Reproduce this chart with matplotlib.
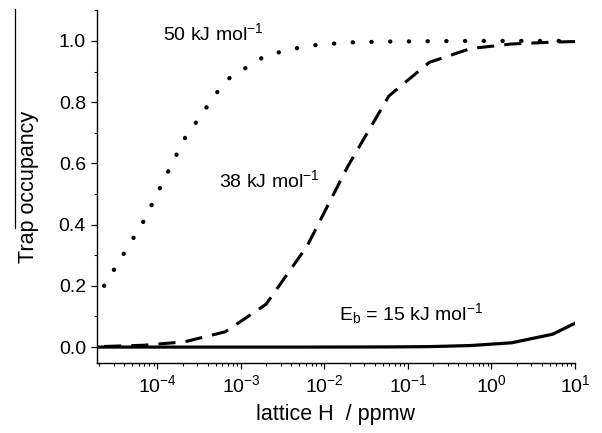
import numpy as np
import matplotlib
matplotlib.use("Agg")
import matplotlib.pyplot as plt
from matplotlib.lines import Line2D
from matplotlib.ticker import LogLocator, MultipleLocator


# ---------- data -----------------------------------------------------------
# lattice H concentration (ppmw)
x_h = [2.3e-5, 6.8e-5, 2.1e-4, 6.5e-4, 2.0e-3, 6.2e-3, 1.9e-2,
       5.9e-2, 0.18, 0.56, 1.74, 5.4, 10.0]
x_h_15 = [1.9e-5, 6.8e-5, 2.1e-4, 6.5e-4, 2.0e-3, 6.2e-3, 1.9e-2,
          5.9e-2, 0.18, 0.56, 1.74, 5.4, 10.0]

# trap occupancy for each binding energy
occ_50 = [0.20, 0.41, 0.68, 0.87, 0.953, 0.984, 0.995,
          0.998, 0.999, 1.0, 1.0, 1.0, 1.0]
occ_38 = [0.002, 0.006, 0.017, 0.05, 0.14, 0.33, 0.59,
          0.82, 0.93, 0.975, 0.99, 0.996, 0.998]
occ_15 = [0.0, 0.0, 0.0, 0.0, 0.0, 0.0, 0.0002,
          0.0005, 0.0015, 0.005, 0.014, 0.042, 0.078]

labels = [r"50 kJ mol$^{-1}$", r"38 kJ mol$^{-1}$", r"E$_{\rm b}$ = 15 kJ mol$^{-1}$"]


# ---------- style ------------------------------------------------------------
plt.rcParams["font.family"] = ["Liberation Sans", "DejaVu Sans"]
plt.rcParams["mathtext.fontset"] = "custom"
plt.rcParams["mathtext.rm"] = "Liberation Sans"
plt.rcParams["mathtext.it"] = "Liberation Sans"
plt.rcParams["mathtext.bf"] = "Liberation Sans:bold"
plt.rcParams["mathtext.default"] = "regular"

fig = plt.figure(figsize=(6.02, 4.33), dpi=100)
ax = fig.add_axes([97 / 602, 70 / 433, 478 / 602, 353 / 433])


# ---------- curves -----------------------------------------------------------
ax.plot(x_h, occ_50, color="black", lw=3.1, dashes=(0.05, 4.3),
        dash_capstyle="round")
ax.plot(x_h, occ_38, color="black", lw=2.2, dashes=(5.6, 3.3))
ax.plot(x_h_15, occ_15, color="black", lw=2.3, solid_joinstyle="miter")


# ---------- axes -------------------------------------------------------------
ax.set_xscale("log")
ax.set_xlim(1.89e-5, 10)
ax.set_ylim(-0.052, 1.101)

ax.xaxis.set_major_locator(LogLocator(base=10, numticks=12))
ax.xaxis.set_minor_locator(LogLocator(base=10, subs=np.arange(2, 10), numticks=12))
ax.yaxis.set_major_locator(MultipleLocator(0.2))
ax.yaxis.set_minor_locator(MultipleLocator(0.1))
ax.yaxis.set_major_formatter(plt.FormatStrFormatter("%.1f"))

for side in ["top", "right"]:
    ax.spines[side].set_visible(False)
for side in ["left", "bottom"]:
    ax.spines[side].set_linewidth(1.0)

ax.tick_params(which="major", direction="out", length=4, width=0.9,
               labelsize=14, pad=4)
ax.tick_params(which="minor", direction="out", length=2.3, width=0.8)

ax.set_xlabel("lattice H  / ppmw", fontsize=15.5, labelpad=6)
ax.set_ylabel("Trap occupancy", fontsize=15.5, labelpad=14)

# overline above "occupancy" in the y label
fig.add_artist(Line2D([15 / 602, 15 / 602], [1 - 9 / 433, 1 - 228 / 433],
                      transform=fig.transFigure, color="black", lw=0.9))


# ---------- annotations ------------------------------------------------------
ax.text(10 ** -3.93, 1.026, labels[0], fontsize=14, va="center", ha="left")
ax.text(10 ** -3.265, 0.546, labels[1], fontsize=14, va="center", ha="left")
ax.text(10 ** -1.82, 0.111, labels[2], fontsize=14, va="center", ha="left")

fig.savefig("out.png", dpi=100)
